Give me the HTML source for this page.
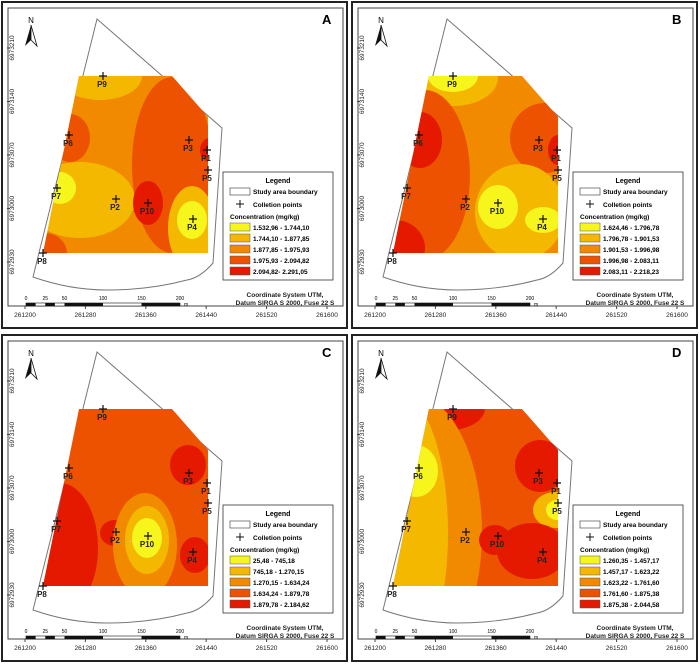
<!DOCTYPE html>
<html><head><meta charset="utf-8"><style>
body{margin:0;background:#fff;}
svg{display:block;font-family:"Liberation Sans",sans-serif;}
</style></head><body>
<svg id="fig" width="700" height="664" viewBox="0 0 700 664"></svg>
<script>
const NS="http://www.w3.org/2000/svg";
const colors=["#f6f51c","#f5b800","#f28a00","#ec5200","#e41900"];
const panelLetters=["A","B","C","D"];
const panelOffsets=[[0,0],[350,0],[0,333],[350,333]];
const pointNames=["P1","P2","P3","P4","P5","P6","P7","P8","P9","P10"];
const pointX=[207,116,189,193,208,69,57,43,103,148];
const pointY=[150,199,140,219,170,135,188,253,76,203];
const legendA=["1.532,96 - 1.744,10","1.744,10 - 1.877,85","1.877,85 - 1.975,93","1.975,93 - 2.094,82","2.094,82- 2.291,05"];
const legendB=["1.624,46 - 1.796,78","1.796,78 - 1.901,53","1.901,53 - 1.996,98","1.996,98 - 2.083,11","2.083,11 - 2.218,23"];
const legendC=["25,48 - 745,18","745,18 - 1.270,15","1.270,15 - 1.634,24","1.634,24 - 1.879,78","1.879,78 - 2.184,62"];
const legendD=["1.260,35 - 1.457,17","1.457,17 - 1.623,22","1.623,22 - 1.761,60","1.761,60 - 1.875,38","1.875,38 - 2.044,58"];
const legends=[legendA,legendB,legendC,legendD];
const baseClass=[2,2,3,3];
// blobs: [cx, cy, rx, ry, class]
const blobsA=[[100,76,42,24,1],[70,138,20,24,3],[80,200,55,38,1],[60,188,16,16,0],[45,253,22,20,3],[172,165,40,88,3],[148,203,15,22,4],[210,150,10,12,4],[192,228,24,42,1],[192,220,15,19,0]];
const blobsB=[[103,78,45,28,1],[103,76,25,16,0],[75,175,45,85,3],[70,140,22,28,4],[45,248,30,28,4],[195,138,35,35,3],[208,150,10,15,4],[170,212,45,48,1],[148,207,20,22,0],[193,220,18,13,0]];
const blobsC=[[188,132,18,20,4],[60,215,38,65,4],[115,200,15,13,4],[145,212,32,52,2],[147,207,22,34,1],[147,205,15,20,0],[195,222,15,18,4]];
const blobsD=[[100,75,35,22,4],[60,200,72,140,2],[48,200,50,140,1],[66,138,22,26,0],[190,133,25,26,4],[205,177,22,18,1],[207,177,11,10,0],[182,218,35,28,4],[145,207,16,15,4]];
const blobs=[blobsA,blobsB,blobsC,blobsD];
const xTicks=["261200","261280","261360","261440","261520","261600"];
const yTicks=["6973210","6973140","6973070","6973000","6972930"];
const scaleLabels=["0","25","50","100","150","200"];
const scaleVals=[0,25,50,100,150,200];

const fig=document.getElementById("fig");
function mk(tag,attrs,parent,txt){const e=document.createElementNS(NS,tag);for(const k in attrs)e.setAttribute(k,attrs[k]);if(txt!==undefined)e.textContent=txt;(parent||fig).appendChild(e);return e;}
const defs=mk("defs",{});
const cp=mk("clipPath",{id:"reg"},defs);
mk("polygon",{points:"79,76 172,76 208,117 208,253 43,253"},cp);

panelLetters.forEach((L,i)=>{
  const [ox,oy]=panelOffsets[i];
  const g=mk("g",{transform:`translate(${ox},${oy})`});
  
  
  mk("rect",{x:2,y:2,width:345,height:326,fill:"#fff",stroke:"#222","stroke-width":2},g);
  mk("rect",{x:8,y:8,width:335,height:298,fill:"none",stroke:"#444","stroke-width":1},g);
  const bnd=mk("path",{d:"M97,19 L222,128 L213,263 Q200,278 187,280 Q150,290 107,290 Q70,290 33,277 Z",fill:"#fff",stroke:"#777","stroke-width":1},g);
  
  
  const cg=mk("g",{"clip-path":"url(#reg)"},g);
  
  
  mk("rect",{x:40,y:70,width:175,height:190,fill:colors[baseClass[i]]},cg);
  blobs[i].forEach(b=>{const e=mk("ellipse",{cx:b[0],cy:b[1],rx:b[2],ry:b[3],fill:colors[b[4]]},cg);
    
    });
  pointNames.forEach((n,j)=>{
    const pg=mk("g",{},g);
    
    
    const x=pointX[j],y=pointY[j];
    mk("path",{d:`M${x-4},${y}H${x+4}M${x},${y-4}V${y+4}`,stroke:"#111","stroke-width":1.2},pg);
    mk("text",{x:x-1,y:y+11,"font-size":8,"font-weight":"bold","text-anchor":"middle",fill:"#222"},pg,n);
  });
  const lt=mk("text",{x:322,y:24,"font-size":13,"font-weight":"bold",fill:"#000"},g,L);
  
  // north arrow
  const na=mk("g",{},g);
  mk("text",{x:31,y:23,"font-size":8,"text-anchor":"middle"},na,"N");
  mk("polygon",{points:"31,25 25,46 31,40",fill:"#111"},na);
  mk("polygon",{points:"31,25 37,46 31,40",fill:"#fff",stroke:"#111","stroke-width":0.8},na);
  // y ticks
  yTicks.forEach((t,k)=>{const y=48+k*53.5;
    const e=mk("text",{x:0,y:0,"font-size":6.5,"text-anchor":"middle",transform:`translate(14,${y}) rotate(-90)`,fill:"#222"},g,t);
    
    mk("line",{x1:7,x2:10,y1:y,y2:y,stroke:"#444"},g);});
  xTicks.forEach((t,k)=>{const x=25+k*60.4;
    const e=mk("text",{x:x,y:317,"font-size":6.5,"text-anchor":"middle",fill:"#222"},g,t);
    
    mk("line",{x1:x,x2:x,y1:306,y2:309,stroke:"#444"},g);});
  // scale bar
  const sb=mk("g",{},g);
  const sx=v=>26+v*0.77;
  mk("rect",{x:sx(0),y:303,width:sx(200)-sx(0),height:3,fill:"#fff",stroke:"#111","stroke-width":0.6},sb);
  [[0,12.5],[25,37.5],[50,100],[150,200]].forEach(s=>mk("rect",{x:sx(s[0]),y:303,width:sx(s[1])-sx(s[0]),height:3,fill:"#111"},sb));
  scaleLabels.forEach((t,k)=>mk("text",{x:sx(scaleVals[k]),y:300,"font-size":5,"text-anchor":"middle"},sb,t));
  mk("text",{x:sx(200)+4,y:306,"font-size":5},sb,"m");
  const ct=mk("text",{x:285,y:297,"font-size":6.5,"font-weight":"bold","text-anchor":"middle",fill:"#222"},g,"Coordinate System UTM,");
  
  mk("text",{x:285,y:305,"font-size":6.5,"font-weight":"bold","text-anchor":"middle",fill:"#222"},g,"Datum SIRGA S 2000, Fuse 22 S");
  // legend
  const lg=mk("g",{},g);
  mk("rect",{x:223,y:172,width:110,height:108,fill:"#fff",stroke:"#333","stroke-width":0.8},lg);
  mk("text",{x:278,y:183,"font-size":7,"font-weight":"bold","text-anchor":"middle"},lg,"Legend");
  mk("rect",{x:230,y:188,width:20,height:7,fill:"#fff",stroke:"#333","stroke-width":0.6},lg);
  mk("text",{x:253,y:194,"font-size":6.5,"font-weight":"bold"},lg,"Study area boundary");
  mk("path",{d:"M236,204H244M240,200V208",stroke:"#111","stroke-width":1},lg);
  mk("text",{x:253,y:207,"font-size":6.5,"font-weight":"bold"},lg,"Colletion points");
  mk("text",{x:230,y:219,"font-size":6.5,"font-weight":"bold"},lg,"Concentration (mg/kg)");
  legends[i].forEach((t,k)=>{const y=223+k*11;
    const en=mk("g",{},lg);
    mk("rect",{x:230,y:y,width:20,height:8,fill:colors[k],stroke:"#555","stroke-width":0.5},en);
    mk("text",{x:253,y:y+7,"font-size":6.5,"font-weight":"bold"},en,t);});
});
</script>
</body></html>
